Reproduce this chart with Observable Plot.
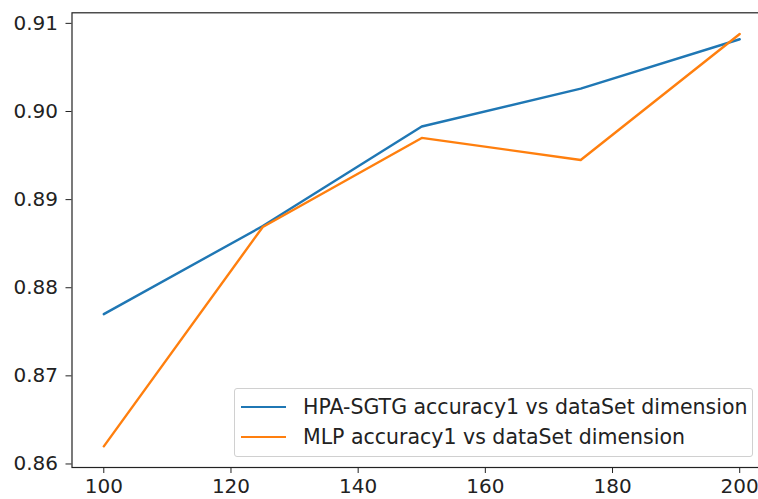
<!DOCTYPE html>
<html><head><meta charset="utf-8">
<script src="https://cdn.jsdelivr.net/npm/d3@7"></script>
<script src="https://cdn.jsdelivr.net/npm/@observablehq/plot@0.6"></script>
<style>
html,body{margin:0;padding:0;background:#fff;overflow:hidden;width:758px;height:499px;}
#wrap{position:relative;width:758px;height:499px;overflow:hidden;}
#chart svg{max-width:none !important;}
#legend{position:absolute;left:234px;top:388px;width:519px;height:69px;border:1px solid #d0d0d0;border-radius:3px;background:rgba(255,255,255,0.8);box-sizing:border-box;font-family:"DejaVu Sans";font-size:20.5px;color:#222;}
.row{position:absolute;left:0;height:24px;display:flex;align-items:center;white-space:nowrap;}
.sw{display:inline-block;width:45px;height:0;border-top:2.4px solid;margin-left:6px;margin-right:17px;}
</style></head>
<body><div id="wrap"><div id="chart"></div><div id="legend"></div></div>
<script>
const dims = [100, 125, 150, 175, 200];
const hpa = [0.8770, 0.8870, 0.8983, 0.9026, 0.9082];
const mlp = [0.8620, 0.8869, 0.8970, 0.8945, 0.9088];
const seriesNames = ["HPA-SGTG accuracy1 vs dataSet dimension", "MLP accuracy1 vs dataSet dimension"];
const colors = ["#1f77b4", "#ff7f0e"];
const xTicks = [100, 120, 140, 160, 180, 200];
const yTicks = [0.86, 0.87, 0.88, 0.89, 0.90, 0.91];

const data = [];
dims.forEach((d, i) => data.push({dim: d, acc: hpa[i], s: seriesNames[0]}));
dims.forEach((d, i) => data.push({dim: d, acc: mlp[i], s: seriesNames[1]}));

const chart = Plot.plot({
  width: 790, height: 499,
  marginLeft: 71.5, marginRight: 19, marginTop: 12.3, marginBottom: 32,
  style: {fontFamily: "DejaVu Sans", fontSize: "20px", color: "#222", background: "#fff", maxWidth: "none", overflow: "visible"},
  x: {domain: [95, 205]},
  y: {domain: [0.8596, 0.9112]},
  color: {domain: seriesNames, range: colors},
  marks: [
    Plot.axisX({ticks: xTicks, tickSize: 6, tickPadding: 5, label: null, fontSize: 20, tickFormat: d3.format("d")}),
    Plot.axisY({ticks: yTicks, tickSize: 6, tickPadding: 8, label: null, fontSize: 20, tickFormat: d3.format(".2f")}),
    Plot.line(data, {x: "dim", y: "acc", z: "s", stroke: "s", strokeWidth: 2.4}),
    Plot.frame({stroke: "#222", strokeWidth: 1.2})
  ]
});
document.getElementById("chart").appendChild(chart);

const leg = document.getElementById("legend");
seriesNames.forEach((n, i) => {
  const r = document.createElement("div");
  r.className = "row";
  r.style.top = (6 + i * 30) + "px";
  r.innerHTML = `<span class="sw" style="border-color:${colors[i]}"></span><span>${n}</span>`;
  leg.appendChild(r);
});
</script></body></html>
